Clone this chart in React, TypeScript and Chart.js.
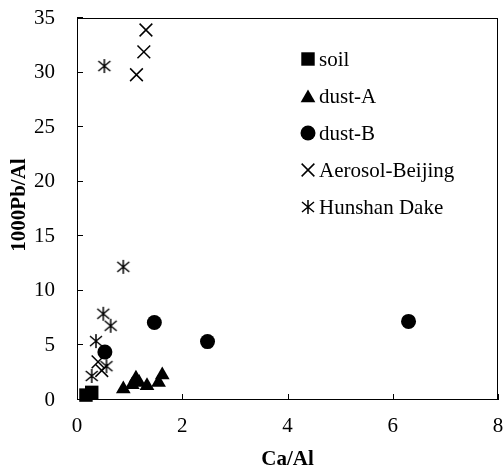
import React, { useEffect, useRef } from 'react';
import { Chart, registerables } from 'chart.js';
import { drawPoint } from 'chart.js/helpers';

Chart.register(...registerables);

const FONT = '"Liberation Serif", "Times New Roman", Times, serif';

const xTickValues = [0, 2, 4, 6, 8];
const yTickValues = [0, 5, 10, 15, 20, 25, 30, 35];
const xTitle = 'Ca/Al';
const yTitle = '1000Pb/Al';

const seriesNames = ['soil', 'dust-A', 'dust-B', 'Aerosol-Beijing', 'Hunshan Dake'];

const soilX = [0.17, 0.28];
const soilY = [0.45, 0.7];

const dustAX = [0.88, 1.05, 1.12, 1.18, 1.33, 1.55, 1.62];
const dustAY = [1.0, 1.4, 2.0, 1.6, 1.3, 1.6, 2.3];

const dustBX = [0.53, 1.47, 2.48, 6.3];
const dustBY = [4.4, 7.1, 5.35, 7.2];

const aerosolX = [1.13, 1.27, 1.31, 0.4, 0.47];
const aerosolY = [29.8, 31.9, 33.9, 3.5, 2.7];

const hunshanX = [0.52, 0.88, 0.5, 0.64, 0.36, 0.56, 0.28];
const hunshanY = [30.6, 12.2, 7.9, 6.8, 5.4, 3.1, 2.2];

function zip(xs: number[], ys: number[]) {
  return xs.map((x, i) => ({ x, y: ys[i] }));
}

function makeAsterisk(): HTMLCanvasElement {
  const c = document.createElement('canvas');
  c.width = 16;
  c.height = 16;
  const g = c.getContext('2d')!;
  g.strokeStyle = '#000';
  g.lineWidth = 1.5;
  g.beginPath();
  g.moveTo(8, 1);
  g.lineTo(8, 15);
  g.moveTo(2, 3);
  g.lineTo(14, 13);
  g.moveTo(14, 3);
  g.lineTo(2, 13);
  g.stroke();
  return c;
}

export default function App() {
  const ref = useRef<HTMLCanvasElement | null>(null);

  useEffect(() => {
    if (!ref.current) return;
    const asterisk = makeAsterisk();

    const styles: any[] = [
      { pointStyle: 'rect', radius: 9.5, borderWidth: 0 },
      { pointStyle: 'triangle', radius: 8.5, borderWidth: 0 },
      { pointStyle: 'circle', radius: 7.5, borderWidth: 0 },
      { pointStyle: 'crossRot', radius: 9, borderWidth: 1.5 },
      { pointStyle: asterisk, radius: 8, borderWidth: 1.5 },
    ];
    const dataArrays = [
      zip(soilX, soilY),
      zip(dustAX, dustAY),
      zip(dustBX, dustBY),
      zip(aerosolX, aerosolY),
      zip(hunshanX, hunshanY),
    ];

    const framePlugin = {
      id: 'frameTicks',
      beforeDatasetsDraw(chart: any) {
        const { ctx, chartArea } = chart;
        const { left, right, top, bottom } = chartArea;
        const xs = chart.scales.x;
        const ys = chart.scales.y;
        ctx.save();
        ctx.strokeStyle = '#000';
        ctx.lineWidth = 1;
        ctx.strokeRect(left + 0.5, top + 0.5, right - left - 1, bottom - top - 1);
        ctx.beginPath();
        xTickValues.forEach((v) => {
          const px = Math.round(xs.getPixelForValue(v)) + 0.5;
          ctx.moveTo(px, bottom);
          ctx.lineTo(px, bottom - 6);
        });
        yTickValues.forEach((v) => {
          const py = Math.round(ys.getPixelForValue(v)) - 0.5;
          ctx.moveTo(left, py);
          ctx.lineTo(left + 6, py);
        });
        ctx.stroke();
        ctx.restore();
      },
      afterDraw(chart: any) {
        const { ctx, chartArea } = chart;
        const { left, right, top, bottom } = chartArea;
        ctx.save();
        ctx.fillStyle = '#000';
        ctx.font = 'bold 21px ' + FONT;
        ctx.textAlign = 'center';
        ctx.textBaseline = 'middle';
        ctx.fillText(xTitle, (left + right) / 2, 460);
        ctx.save();
        ctx.translate(20, (top + bottom) / 2 - 4);
        ctx.rotate(-Math.PI / 2);
        ctx.fillText(yTitle, 0, 0);
        ctx.restore();

        // legend
        ctx.font = '21px ' + FONT;
        ctx.textAlign = 'left';
        ctx.textBaseline = 'middle';
        const lx = 308;
        const ly0 = 59;
        const step = 37;
        chart.data.datasets.forEach((ds: any, i: number) => {
          const st = styles[i];
          const cy = ly0 + i * step;
          ctx.fillStyle = '#000';
          ctx.strokeStyle = '#000';
          ctx.lineWidth = st.borderWidth || 1;
          drawPoint(ctx, { pointStyle: st.pointStyle, radius: st.radius, rotation: 0, borderWidth: st.borderWidth }, lx, cy + (st.pointStyle === 'triangle' ? 2 : 0));
          ctx.fillStyle = '#000';
          ctx.fillText(ds.label, 319, cy + 1);
        });
        ctx.restore();
      },
    };

    const chart = new Chart(ref.current, {
      type: 'scatter',
      data: {
        datasets: dataArrays.map((d, i) => ({
          label: seriesNames[i],
          data: d,
          pointStyle: styles[i].pointStyle,
          pointRadius: styles[i].radius,
          pointBorderWidth: styles[i].borderWidth,
          backgroundColor: '#000',
          borderColor: '#000',
          clip: false as any,
        })),
      },
      options: {
        responsive: false,
        animation: false,
        devicePixelRatio: 1,
        layout: { autoPadding: false, padding: { left: 0, top: 18, right: 6, bottom: 0 } },
        plugins: {
          legend: { display: false },
          tooltip: { enabled: false },
        },
        scales: {
          x: {
            type: 'linear',
            min: 0,
            max: 8,
            afterBuildTicks: (s: any) => {
              s.ticks = xTickValues.map((v) => ({ value: v }));
            },
            afterFit: (s: any) => {
              s.height = 69;
              s.paddingLeft = 0;
              s.paddingRight = 0;
            },
            grid: { display: true, drawOnChartArea: false, drawTicks: false },
            border: { display: false },
            ticks: {
              color: '#000',
              font: { family: FONT, size: 21 },
              padding: 14,
              maxRotation: 0,
            },
          },
          y: {
            type: 'linear',
            min: 0,
            max: 35,
            afterBuildTicks: (s: any) => {
              s.ticks = yTickValues.map((v) => ({ value: v }));
            },
            afterFit: (s: any) => {
              s.width = 77;
              s.paddingTop = 0;
              s.paddingBottom = 0;
            },
            grid: { display: true, drawOnChartArea: false, drawTicks: false },
            border: { display: false },
            ticks: {
              color: '#000',
              font: { family: FONT, size: 21 },
              padding: 22,
            },
          },
        },
      } as any,
      plugins: [framePlugin],
    });
    return () => chart.destroy();
  }, []);

  return (
    <div style={{ position: 'fixed', left: 0, top: 0, width: 504, height: 469, background: '#fff' }}>
      <canvas ref={ref} width={504} height={469} style={{ width: 504, height: 469, display: 'block' }} />
    </div>
  );
}
